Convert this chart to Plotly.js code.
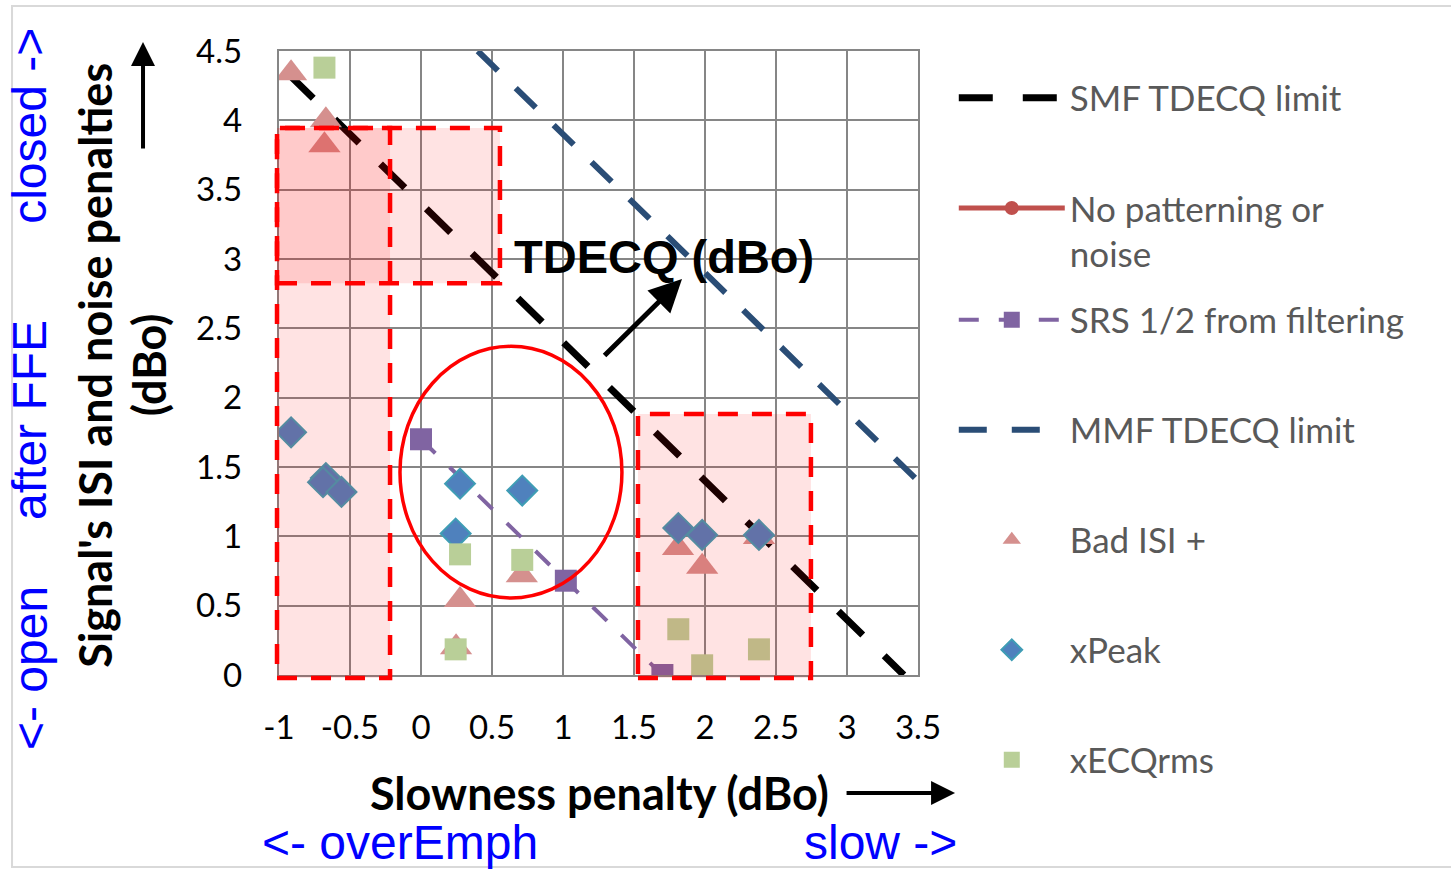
<!DOCTYPE html>
<html><head><meta charset="utf-8">
<script src="https://cdn.plot.ly/plotly-3.0.1.min.js"></script>
<style>html,body{margin:0;padding:0;background:#fff;} #chart{width:1451px;height:869px;}</style>
</head><body><div id="chart"></div>
<script>
// ---- data ----
const smfX = [-0.93, 3.4];
const smfY = [4.33, 0];
const noPatX = [null];
const noPatY = [null];
const srsX = [0, 1.02, 1.7];
const srsY = [1.7, 0.68, 0];
const mmfX = [0.4, 3.5];
const mmfY = [4.5, 1.4];
const badIsiX = [-0.915, -0.67, -0.68, 0.275, 0.71, 0.247, 1.81, 1.98, 2.38];
const badIsiY = [4.34, 4.0, 3.82, 0.54, 0.72, 0.2, 0.915, 0.78, 0.995];
const xPeakX = [-0.915, -0.67, -0.69, -0.56, 0.275, 0.713, 0.244, 1.812, 1.98, 2.38];
const xPeakY = [1.75, 1.42, 1.39, 1.32, 1.38, 1.33, 1.02, 1.06, 1.01, 1.01];
const xEcqX = [-0.68, 0.275, 0.713, 0.244, 1.812, 1.98, 2.38];
const xEcqY = [4.38, 0.87, 0.83, 0.185, 0.33, 0.07, 0.185];
const xTickVals = [-1, -0.5, 0, 0.5, 1, 1.5, 2, 2.5, 3, 3.5];
const xTickText = ['-1', '-0.5', '0', '0.5', '1', '1.5', '2', '2.5', '3', '3.5'];
const yTickVals = [0, 0.5, 1, 1.5, 2, 2.5, 3, 3.5, 4, 4.5];
const yTickText = ['0', '0.5', '1', '1.5', '2', '2.5', '3', '3.5', '4', '4.5'];
const names = ['SMF TDECQ limit', 'No patterning or<br>noise', 'SRS 1/2 from filtering', 'MMF TDECQ limit', 'Bad ISI +', 'xPeak', 'xECQrms'];

const xRange = [-1, 3.5], yRange = [0, 4.5];
const dx = v => (v - xRange[0]) / (xRange[1] - xRange[0]);
const dy = v => (v - yRange[0]) / (yRange[1] - yRange[0]);

const traces = [
  {x: smfX, y: smfY, mode: 'lines', name: names[0], legend: 'legend',
   line: {color: '#000000', width: 7, dash: '34px,30px'}},
  {x: noPatX, y: noPatY, mode: 'lines+markers', name: names[1], legend: 'legend2',
   line: {color: '#c0504d', width: 5}, marker: {symbol: 'circle', size: 14, color: '#c0504d'}},
  {x: srsX, y: srsY, mode: 'lines+markers', name: names[2], legend: 'legend3',
   line: {color: '#8064a2', width: 4, dash: '20px,20px'}, marker: {symbol: 'square', size: 22, color: '#8064a2'}},
  {x: mmfX, y: mmfY, mode: 'lines', name: names[3], legend: 'legend4',
   line: {color: '#2a4d76', width: 6, dash: '28px,25px'}},
  {x: badIsiX, y: badIsiY, mode: 'markers', name: names[4], legend: 'legend5',
   marker: {symbol: 'triangle-up', size: 28, color: '#d5908e'}},
  {x: xPeakX, y: xPeakY, mode: 'markers', name: names[5], legend: 'legend6',
   marker: {symbol: 'diamond', size: 23, color: '#4f81bd', line: {color: '#3f9db5', width: 2}}},
  {x: xEcqX, y: xEcqY, mode: 'markers', name: names[6], legend: 'legend7',
   marker: {symbol: 'square', size: 22, color: '#b9cf98'}}
];

const legFont = {family: 'Lato, sans-serif', size: 35, color: '#595959'};
const legendY = [0.9247, 0.712, 0.569, 0.3926, 0.2163, 0.0401, -0.1362];
function mkLegend(y, va) {
  return {x: 1.056, xanchor: 'left', y: y, yanchor: 'middle', bgcolor: 'rgba(0,0,0,0)',
          font: legFont, itemwidth: 106, borderwidth: 0, valign: va || 'middle'};
}

const redDash = {color: '#ff0000', width: 4.5, dash: '20px,14px'};
const pinkFill = 'rgba(255,0,0,0.11)';
const blueFont = {family: 'Liberation Sans, Arial, sans-serif', size: 48, color: '#0000ff'};
const titleFont = {family: 'Lato, sans-serif', size: 45, color: '#000'};
function note(text, x, y, extra) {
  return Object.assign({text: text, x: x, y: y, xref: 'paper', yref: 'paper', showarrow: false,
                        xanchor: 'center', yanchor: 'middle'}, extra || {});
}

const layout = {
  width: 1451, height: 869,
  margin: {l: 279, r: 533, t: 51, b: 194},
  paper_bgcolor: '#ffffff', plot_bgcolor: '#ffffff',
  showlegend: true,
  legend: mkLegend(legendY[0]),
  legend2: mkLegend(legendY[1], 'top'),
  legend3: mkLegend(legendY[2]),
  legend4: mkLegend(legendY[3]),
  legend5: mkLegend(legendY[4]),
  legend6: mkLegend(legendY[5]),
  legend7: mkLegend(legendY[6]),
  xaxis: {range: xRange, tickmode: 'array', tickvals: xTickVals, ticktext: xTickText,
          showgrid: true, gridcolor: '#868686', gridwidth: 2.2, zeroline: false,
          showline: true, linecolor: '#868686', linewidth: 2.2, mirror: true,
          ticks: '', ticklabelstandoff: 22,
          tickfont: {family: 'Lato, sans-serif', size: 33, color: '#000'}},
  yaxis: {range: yRange, tickmode: 'array', tickvals: yTickVals, ticktext: yTickText,
          showgrid: true, gridcolor: '#868686', gridwidth: 2.2, zeroline: false,
          showline: true, linecolor: '#868686', linewidth: 2.2, mirror: true,
          ticks: '', ticklabelstandoff: 28,
          tickfont: {family: 'Lato, sans-serif', size: 33, color: '#000'}},
  shapes: [
    {type: 'rect', xref: 'x domain', yref: 'y domain', x0: dx(-1.014), x1: dx(-0.218), y0: dy(-0.022), y1: dy(3.944),
     fillcolor: pinkFill, line: redDash, layer: 'above'},
    {type: 'rect', xref: 'x domain', yref: 'y domain', x0: dx(-1.014), x1: dx(0.556), y0: dy(2.826), y1: dy(3.944),
     fillcolor: pinkFill, line: redDash, layer: 'above'},
    {type: 'rect', xref: 'x domain', yref: 'y domain', x0: dx(1.528), x1: dx(2.746), y0: dy(-0.022), y1: dy(1.882),
     fillcolor: pinkFill, line: redDash, layer: 'above'},
    {type: 'circle', xref: 'x', yref: 'y', x0: -0.148, x1: 1.415, y0: 0.555, y1: 2.37,
     line: {color: '#ff0000', width: 3.5}, layer: 'above'},
    {type: 'rect', xref: 'paper', yref: 'paper', x0: -0.4178, x1: 1.86, y0: -0.3077, y1: 1.072,
     line: {color: '#d9d9d9', width: 2}, fillcolor: 'rgba(0,0,0,0)', layer: 'below'}
  ],
  annotations: [
    {text: '<b>TDECQ (dBo)</b>', x: 1.711, y: 3.02, xref: 'x', yref: 'y', showarrow: false,
     xanchor: 'center', yanchor: 'middle',
     font: {family: 'Liberation Sans, Arial, sans-serif', size: 47, color: '#000'}},
    {text: '', x: 1.838, y: 2.855, ax: 1.282, ay: 2.293, xref: 'x', yref: 'y', axref: 'x', ayref: 'y',
     showarrow: true, arrowhead: 2, arrowsize: 1.3, arrowwidth: 5, arrowcolor: '#000'},
    note('<b>Slowness penalty (dBo)</b>', 0.5008, -0.189, {font: titleFont}),
    {text: '', x: 1.058, y: -0.189, xref: 'paper', yref: 'paper', ax: -110, ay: 0,
     showarrow: true, arrowhead: 2, arrowsize: 1.2, arrowwidth: 4, arrowcolor: '#000'},
    note("<b>Signal's ISI and noise penalties</b>", -0.288, 0.497, {textangle: -90, font: titleFont}),
    note('<b>(dBo)</b>', -0.203, 0.497, {textangle: -90, font: titleFont}),
    {text: '', x: -0.2128, y: 1.0144, xref: 'paper', yref: 'paper', ax: 0, ay: 108,
     showarrow: true, arrowhead: 2, arrowsize: 1.2, arrowwidth: 4, arrowcolor: '#000'},
    note('&lt;- open', -0.3897, 0.0112, {textangle: -90, font: blueFont}),
    note('after FFE', -0.3897, 0.4087, {textangle: -90, font: blueFont}),
    note('closed -&gt;', -0.3897, 0.88, {textangle: -90, font: blueFont}),
    note('&lt;- overEmph', 0.189, -0.269, {font: blueFont}),
    note('slow -&gt;', 0.942, -0.269, {font: blueFont})
  ]
};

Plotly.newPlot('chart', traces, layout, {displayModeBar: false, staticPlot: true});
</script>
</body></html>
